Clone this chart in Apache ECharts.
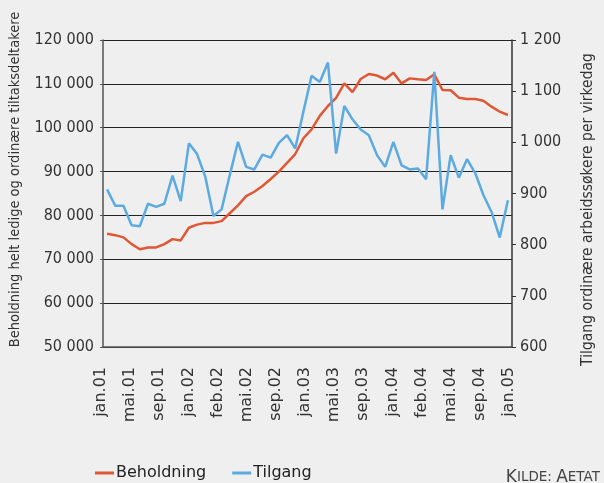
<!DOCTYPE html>
<html>
<head>
<meta charset="UTF-8">
<title>Beholdning og tilgang</title>
<script src="https://cdn.jsdelivr.net/npm/echarts@6/dist/echarts.min.js"></script>
<style>
body { margin: 0; background: #efefef; }
#main { width: 604px; height: 483px; }
</style>
</head>
<body>
<div id="main"></div>
<script>
// maaneder i datagrunnlaget
var months = ['jan.01','feb.01','mar.01','apr.01','mai.01','jun.01','jul.01','aug.01','sep.01','okt.01','nov.01','des.01',
	'jan.02','feb.02','mar.02','apr.02','mai.02','jun.02','jul.02','aug.02','sep.02','okt.02','nov.02','des.02',
	'jan.03','feb.03','mar.03','apr.03','mai.03','jun.03','jul.03','aug.03','sep.03','okt.03','nov.03','des.03',
	'jan.04','feb.04','mar.04','apr.04','mai.04','jun.04','jul.04','aug.04','sep.04','okt.04','nov.04','des.04',
	'jan.05','feb.05'];
// etiketter slik de staar paa aksen
var tickLabels = ['jan.01','mai.01','sep.01','jan.02','feb.02','mai.02','sep.02','jan.03','mai.03','sep.03','jan.04','feb.04','mai.04','sep.04','jan.05'];
var beholdning = [75800, 75500, 75000, 73450, 72300, 72700, 72700, 73450, 74600, 74300,
	77200, 77900, 78300, 78300, 78700, 80500, 82300, 84400, 85400, 86700,
	88300, 90000, 92000, 94000, 97600, 99600, 102700, 104950, 106800, 110100,
	108100, 111100, 112250, 111900, 111050, 112550, 110100, 111250, 111050, 110900,
	112200, 108600, 108550, 106850, 106550, 106550, 106150, 104800, 103650, 102900];
var tilgang = [908, 876, 876, 838, 836, 880, 874, 880, 935, 885,
	998, 977, 933, 856, 869, 936, 1001, 952, 947, 976,
	970, 999, 1014, 988, 1060, 1130, 1118, 1156, 978, 1071,
	1045, 1025, 1014, 975, 952, 1001, 955, 947, 949, 928,
	1138, 869, 975, 931, 967, 940, 897, 864, 814, 887];

var font = 'DejaVu Sans Condensed';
var font2 = 'DejaVu Sans';
function spaced(v) {
	return String(v).replace(/\B(?=(\d{3})+(?!\d))/g, ' ');
}

var myChart = echarts.init(document.getElementById('main'));
var option = {
	backgroundColor : '#efefef',
	animation : false,
	textStyle : { fontFamily : font },
	legend : {
		left : 95,
		top : 465,
		padding : 0,
		itemWidth : 19,
		itemHeight : 3,
		itemGap : 26,
		icon : 'rect',
		textStyle : { fontSize : 16, color : '#222', fontFamily : font2, padding : [0, 0, 0, -3] },
		data : ['Beholdning', 'Tilgang']
	},
	grid : [
		{ left : 102, right : 84, top : 40, bottom : 136 },
		{ left : 101, right : 95, top : 40, bottom : 136 }
	],
	xAxis : [ {
		type : 'category',
		gridIndex : 0,
		data : months,
		boundaryGap : true,
		axisLine : { lineStyle : { color : '#555', width : 1.5 } },
		axisTick : { interval : 1, length : 3, lineStyle : { color : '#555' } },
		axisLabel : { show : false }
	}, {
		type : 'category',
		gridIndex : 1,
		data : tickLabels,
		boundaryGap : false,
		axisLine : { show : false },
		axisTick : { show : false },
		axisLabel : { interval : 0, rotate : 90, margin : 20, fontSize : 16, color : '#333', fontFamily : font2 }
	} ],
	yAxis : [ {
		type : 'value',
		gridIndex : 0,
		min : 50000,
		max : 120000,
		interval : 10000,
		name : 'Beholdning helt ledige og ordinære tiltaksdeltakere',
		nameLocation : 'middle',
		nameGap : 80,
		nameTextStyle : { fontSize : 14.5, color : '#333', fontFamily : font, padding : [0, 0, 0, 28] },
		axisLine : { show : true, lineStyle : { color : '#555', width : 1.5 } },
		axisTick : { show : true, length : 3, lineStyle : { color : '#555' } },
		axisLabel : { margin : 9, fontSize : 16, color : '#333', fontFamily : font, formatter : spaced },
		splitLine : { lineStyle : { color : '#222', width : 1 } }
	}, {
		type : 'value',
		gridIndex : 0,
		position : 'right',
		min : 600,
		max : 1200,
		interval : 100,
		name : 'Tilgang ordinære arbeidssøkere per virkedag',
		nameLocation : 'middle',
		nameGap : 68,
		nameRotate : 90,
		nameTextStyle : { fontSize : 15.5, color : '#333', fontFamily : font, padding : [0, 32, 0, 0] },
		axisLine : { show : true, lineStyle : { color : '#333', width : 1.5 } },
		axisTick : { show : true, length : 4, lineStyle : { color : '#333' } },
		axisLabel : { margin : 8, fontSize : 16, color : '#333', fontFamily : font, formatter : spaced },
		splitLine : { show : false }
	}, {
		type : 'value',
		gridIndex : 1,
		show : false
	} ],
	series : [ {
		name : 'Beholdning',
		type : 'line',
		xAxisIndex : 0,
		yAxisIndex : 0,
		data : beholdning,
		showSymbol : false,
		symbol : 'none',
		color : '#df5734',
		lineStyle : { width : 2.5, color : '#df5734' }
	}, {
		name : 'Tilgang',
		type : 'line',
		xAxisIndex : 0,
		yAxisIndex : 1,
		data : tilgang,
		showSymbol : false,
		symbol : 'none',
		color : '#5baae0',
		lineStyle : { width : 2.5, color : '#5baae0' }
	} ],
	graphic : [ {
		type : 'text',
		right : 4,
		top : 469,
		style : {
			text : '{b|K}{s|ILDE: }{b|A}{s|ETAT}',
			fill : '#444',
			rich : {
				b : { fontSize : 17, fontFamily : font2, fill : '#444' },
				s : { fontSize : 13.5, fontFamily : font2, fill : '#444' }
			}
		}
	} ]
};
myChart.setOption(option);
</script>
</body>
</html>
